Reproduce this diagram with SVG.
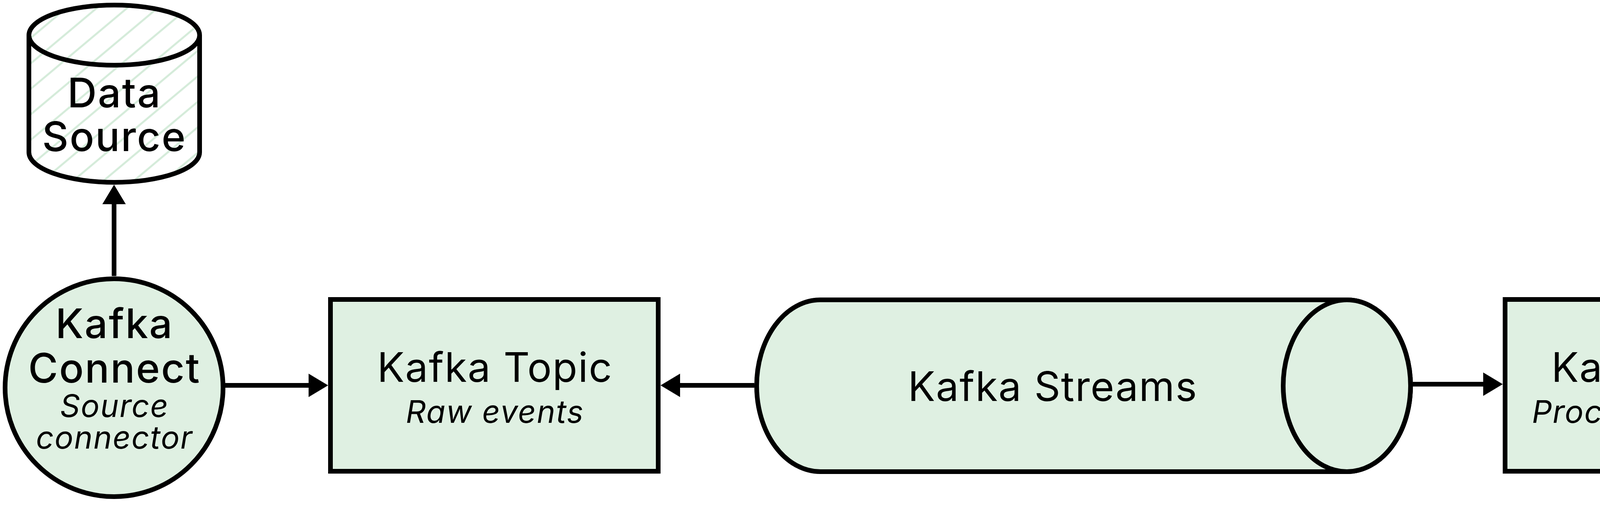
<svg xmlns="http://www.w3.org/2000/svg" width="5544" height="1296" viewBox="0 0 5544 1296">
<style>
.shape{fill:#dff0e2;stroke:#000;stroke-width:12}
.db{fill:url(#hatch);stroke:#000;stroke-width:12}
.db-line{fill:none;stroke:#000;stroke-width:12}
.t{font-family:Inter,"Noto Sans","Liberation Sans",sans-serif;fill:#000;text-anchor:middle}
.big{font-size:104px;font-weight:500;letter-spacing:3px}
.mid{font-size:104px;font-weight:400;letter-spacing:2px}
.sub{font-size:80px;font-style:italic;font-weight:400;letter-spacing:2px}
.conn{fill:none;stroke:#000;stroke-width:12}
</style>
<defs>
<pattern id="hatch" patternUnits="userSpaceOnUse" width="50" height="50" patternTransform="rotate(-40)">
<rect width="50" height="50" fill="#fff"/>
<line x1="0" y1="25" x2="50" y2="25" stroke="#d4ebd9" stroke-width="5"/>
</pattern>
<marker id="arrow" markerUnits="userSpaceOnUse" markerWidth="50" markerHeight="60" refX="0" refY="30" orient="auto" viewBox="0 0 50 60">
<path d="M0,0 L50,30 L0,60 Z" fill="#000"/>
</marker>
</defs>
<rect width="5544" height="1296" fill="#fff"/>

<g id="connectors">
<path class="conn" d="M292 707 L292 523" marker-end="url(#arrow)"/>
<path class="conn" d="M576 987 L790 987" marker-end="url(#arrow)"/>
<path class="conn" d="M1931 987 L1741 987" marker-end="url(#arrow)"/>
<path class="conn" d="M3617 984 L3797 984" marker-end="url(#arrow)"/>
<path class="conn" d="M4966 984 L4747 984" marker-end="url(#arrow)"/>
<path class="conn" d="M5251 705 L5251 523" marker-end="url(#arrow)"/>
</g>

<g id="data-source">
<path class="db" d="M74 90 A218.5 77 0 0 1 511 90 L511 390 A218.5 77 0 0 1 74 390 Z"/>
<path class="db-line" d="M74 90 A218.5 77 0 0 0 511 90"/>
<text class="t big" x="293" y="275">Data</text>
<text class="t big" x="293" y="387">Source</text>
</g>

<g id="kafka-connect-source">
<circle class="shape" cx="292" cy="993" r="279"/>
<text class="t big" x="293" y="866">Kafka</text>
<text class="t big" x="293" y="980">Connect</text>
<text class="t sub" x="293" y="1068">Source</text>
<text class="t sub" x="293" y="1149">connector</text>
</g>

<g id="topic-raw">
<rect class="shape" x="846" y="767" width="839" height="440"/>
<text class="t mid" x="1267" y="978">Kafka Topic</text>
<text class="t sub" x="1267" y="1083">Raw events</text>
</g>

<g id="kafka-streams">
<path class="shape" d="M2100 768 L3448 768 A163 220 0 0 1 3448 1208 L2100 1208 A163 220 0 0 1 2100 768 Z"/>
<ellipse class="shape" cx="3448" cy="988" rx="163" ry="220"/>
<text class="t mid" x="2695" y="1027">Kafka Streams</text>
</g>

<g id="topic-processed">
<rect class="shape" x="3853" y="767" width="838" height="440"/>
<text class="t mid" x="4273" y="978">Kafka Topic</text>
<text class="t sub" x="4273" y="1083">Processed events</text>
</g>

<g id="kafka-connect-sink">
<circle class="shape" cx="5251" cy="993" r="279"/>
<text class="t big" x="5252" y="866">Kafka</text>
<text class="t big" x="5252" y="980">Connect</text>
<text class="t sub" x="5252" y="1068">Sink</text>
<text class="t sub" x="5252" y="1148">connector</text>
</g>

<g id="data-sink">
<path class="db" d="M5033 90 A219 77 0 0 1 5471 90 L5471 390 A219 77 0 0 1 5033 390 Z"/>
<path class="db-line" d="M5033 90 A219 77 0 0 0 5471 90"/>
<text class="t big" x="5253" y="275">Data</text>
<text class="t big" x="5253" y="387">Sink</text>
</g>
</svg>
